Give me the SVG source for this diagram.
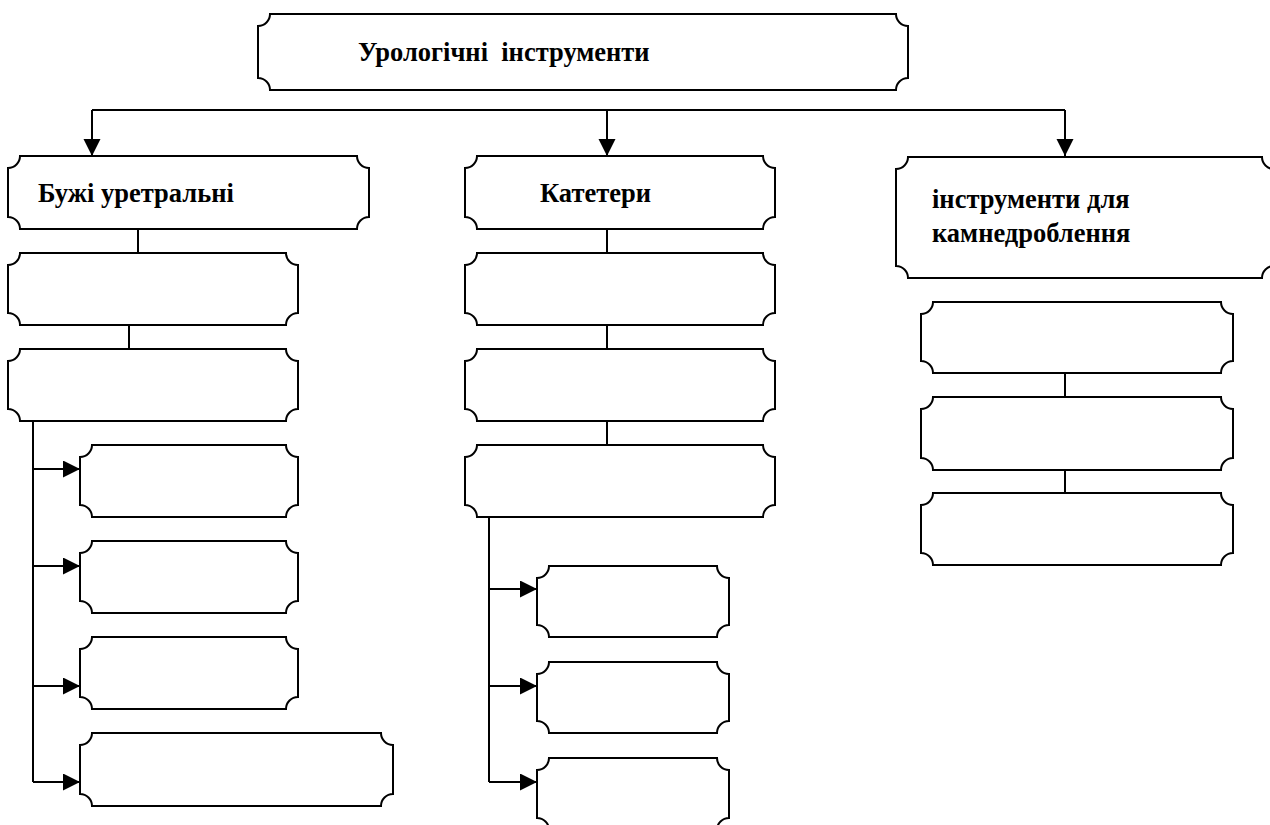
<svg xmlns="http://www.w3.org/2000/svg" width="1270" height="825" viewBox="0 0 1270 825">
<style>
.box{fill:#fff;stroke:#000;stroke-width:2}
.ln{fill:none;stroke:#000;stroke-width:2}
.t{font-family:"Liberation Serif","Times New Roman",serif;font-weight:bold;font-size:26.5px;fill:#000}
</style>
<defs>
<marker id="ah" markerUnits="userSpaceOnUse" markerWidth="18" markerHeight="18" refX="17" refY="8.5" orient="auto">
<path d="M0,0 L17,8.5 L0,17 Z" fill="#000"/>
</marker>
</defs>
<g id="connectors">
<path class="ln" d="M92,110 H1065"/>
<path class="ln" d="M92,110 V156" marker-end="url(#ah)"/>
<path class="ln" d="M607,110 V156" marker-end="url(#ah)"/>
<path class="ln" d="M1065,110 V156" marker-end="url(#ah)"/>
<path class="ln" d="M138,229 V253"/>
<path class="ln" d="M129,325 V349"/>
<path class="ln" d="M33,421 V782"/>
<path class="ln" d="M33,469 H80" marker-end="url(#ah)"/>
<path class="ln" d="M33,566 H80" marker-end="url(#ah)"/>
<path class="ln" d="M33,686 H80" marker-end="url(#ah)"/>
<path class="ln" d="M33,782 H80" marker-end="url(#ah)"/>
<path class="ln" d="M607,229 V253"/>
<path class="ln" d="M607,325 V349"/>
<path class="ln" d="M607,421 V445"/>
<path class="ln" d="M489,517 V782"/>
<path class="ln" d="M489,589 H537" marker-end="url(#ah)"/>
<path class="ln" d="M489,686 H537" marker-end="url(#ah)"/>
<path class="ln" d="M489,782 H537" marker-end="url(#ah)"/>
<path class="ln" d="M1065,373 V397"/>
<path class="ln" d="M1065,470 V493"/>
</g>
<g id="root">
<path class="box" d="M270,14 H896 A12,12 0 0 0 908,26 V78 A12,12 0 0 0 896,90 H270 A12,12 0 0 0 258,78 V26 A12,12 0 0 0 270,14 Z"/>
<text class="t" x="358" y="61" xml:space="preserve">Урологічні  інструменти</text>
</g>
<g id="buzhi">
<path class="box" d="M20,156 H357 A12,12 0 0 0 369,168 V217 A12,12 0 0 0 357,229 H20 A12,12 0 0 0 8,217 V168 A12,12 0 0 0 20,156 Z"/>
<text class="t" x="38" y="202">Бужі уретральні</text>
</g>
<g id="b1"><path class="box" d="M20,253 H286 A12,12 0 0 0 298,265 V313 A12,12 0 0 0 286,325 H20 A12,12 0 0 0 8,313 V265 A12,12 0 0 0 20,253 Z"/></g>
<g id="b2"><path class="box" d="M20,349 H286 A12,12 0 0 0 298,361 V409 A12,12 0 0 0 286,421 H20 A12,12 0 0 0 8,409 V361 A12,12 0 0 0 20,349 Z"/></g>
<g id="b3"><path class="box" d="M92,445 H286 A12,12 0 0 0 298,457 V505 A12,12 0 0 0 286,517 H92 A12,12 0 0 0 80,505 V457 A12,12 0 0 0 92,445 Z"/></g>
<g id="b4"><path class="box" d="M92,541 H286 A12,12 0 0 0 298,553 V601 A12,12 0 0 0 286,613 H92 A12,12 0 0 0 80,601 V553 A12,12 0 0 0 92,541 Z"/></g>
<g id="b5"><path class="box" d="M92,637 H286 A12,12 0 0 0 298,649 V697 A12,12 0 0 0 286,709 H92 A12,12 0 0 0 80,697 V649 A12,12 0 0 0 92,637 Z"/></g>
<g id="b6"><path class="box" d="M92,733 H381 A12,12 0 0 0 393,745 V794 A12,12 0 0 0 381,806 H92 A12,12 0 0 0 80,794 V745 A12,12 0 0 0 92,733 Z"/></g>
<g id="katetery">
<path class="box" d="M477,156 H763 A12,12 0 0 0 775,168 V217 A12,12 0 0 0 763,229 H477 A12,12 0 0 0 465,217 V168 A12,12 0 0 0 477,156 Z"/>
<text class="t" x="540" y="202">Катетери</text>
</g>
<g id="k1"><path class="box" d="M477,253 H763 A12,12 0 0 0 775,265 V313 A12,12 0 0 0 763,325 H477 A12,12 0 0 0 465,313 V265 A12,12 0 0 0 477,253 Z"/></g>
<g id="k2"><path class="box" d="M477,349 H763 A12,12 0 0 0 775,361 V409 A12,12 0 0 0 763,421 H477 A12,12 0 0 0 465,409 V361 A12,12 0 0 0 477,349 Z"/></g>
<g id="k3"><path class="box" d="M477,445 H763 A12,12 0 0 0 775,457 V505 A12,12 0 0 0 763,517 H477 A12,12 0 0 0 465,505 V457 A12,12 0 0 0 477,445 Z"/></g>
<g id="k4"><path class="box" d="M549,566 H717 A12,12 0 0 0 729,578 V625 A12,12 0 0 0 717,637 H549 A12,12 0 0 0 537,625 V578 A12,12 0 0 0 549,566 Z"/></g>
<g id="k5"><path class="box" d="M549,662 H717 A12,12 0 0 0 729,674 V721 A12,12 0 0 0 717,733 H549 A12,12 0 0 0 537,721 V674 A12,12 0 0 0 549,662 Z"/></g>
<g id="k6"><path class="box" d="M549,758 H717 A12,12 0 0 0 729,770 V818 A12,12 0 0 0 717,830 H549 A12,12 0 0 0 537,818 V770 A12,12 0 0 0 549,758 Z"/></g>
<g id="kamne">
<path class="box" d="M908,157 H1262 A12,12 0 0 0 1274,169 V266 A12,12 0 0 0 1262,278 H908 A12,12 0 0 0 896,266 V169 A12,12 0 0 0 908,157 Z"/>
<text class="t" x="932" y="208">інструменти для</text>
<text class="t" x="932" y="242">камнедроблення</text>
</g>
<g id="r1"><path class="box" d="M933,302 H1221 A12,12 0 0 0 1233,314 V361 A12,12 0 0 0 1221,373 H933 A12,12 0 0 0 921,361 V314 A12,12 0 0 0 933,302 Z"/></g>
<g id="r2"><path class="box" d="M933,397 H1221 A12,12 0 0 0 1233,409 V458 A12,12 0 0 0 1221,470 H933 A12,12 0 0 0 921,458 V409 A12,12 0 0 0 933,397 Z"/></g>
<g id="r3"><path class="box" d="M933,493 H1221 A12,12 0 0 0 1233,505 V553 A12,12 0 0 0 1221,565 H933 A12,12 0 0 0 921,553 V505 A12,12 0 0 0 933,493 Z"/></g>
</svg>
